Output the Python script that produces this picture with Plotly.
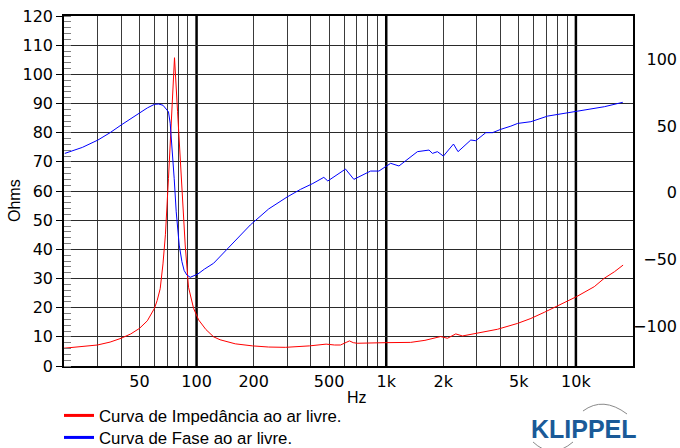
import math
import plotly.graph_objects as go

# ---------------- data ----------------
imp_freq = [20, 25, 30, 35, 40, 45, 50, 55, 60, 62, 64.3, 66.5, 68.5, 71.1, 73.8, 76.5,
            79.4, 83.0, 87.1, 90.7, 96.4, 102.5, 112, 123, 133, 160, 197, 240,
            294, 394, 482, 534, 574, 620, 640, 670, 703, 993, 1345, 1600, 1937,
            2102, 2326, 2523, 2791, 3862, 4925, 5789, 6808, 8010, 10093, 12502,
            14125, 15955, 17734]
imp_ohms = [6.1, 6.6, 7.2, 8.2, 9.5, 11.0, 12.9, 15.5, 19.8, 22.5, 26.5, 35, 45, 64.3, 87.2, 105.7,
            87.2, 64.3, 41.5, 27, 19.8, 15.8, 12.5, 10.0, 9.0, 7.6, 6.9, 6.5,
            6.4, 6.9, 7.5, 7.2, 7.2, 8.2, 8.6, 8.0, 7.8, 8.0, 8.1, 8.8, 10.1,
            9.5, 11.0, 10.3, 10.9, 12.6, 14.6, 16.3, 18.4, 20.6, 23.8, 27.2,
            30.1, 32.3, 34.6]

phase_freq = [20.2, 25, 30.2, 35, 40, 45, 50, 55, 60, 63.1, 66.5, 69.7, 71.1, 72.6,
              74.1, 76.2, 78.1, 81.0, 83.7, 86, 88.9, 92.6, 101.7, 110, 123, 144.8,
              192, 240, 300, 353, 410, 468.6, 492, 610, 675, 827, 915, 1055, 1167,
              1460, 1681, 1752, 1861, 2002, 2262, 2391, 2791, 2966, 3349, 3634,
              4021, 4541, 4926, 5789, 7095, 10220, 14125, 17670]
phase_deg = [29.5, 34, 39.5, 45, 50.7, 55.5, 60.2, 63.5, 66.2, 66.4, 65.5, 62, 60.6, 52,
             37, 10.9, -14.1, -39, -51.4, -58, -61.4, -63.1, -60.6, -57, -52.6, -42.2,
             -24, -12, -3.1, 2.6, 7, 11.6, 8.9, 17.8, 10.1, 16.3, 16.3, 22.1, 20.1,
             30.8, 32, 29.5, 30.8, 27.5, 36.5, 30.8, 39.5, 39, 45, 45,
             47.5, 49.9, 51.9, 53.2, 57.4, 61.1, 64.4, 67.7]

x_tick_vals = [50, 100, 200, 500, 1000, 2000, 5000, 10000]
x_tick_text = ["50", "100", "200", "500", "1k", "2k", "5k", "10k"]
decade_lines = [100, 1000, 10000]
minor_lines = [30, 40, 50, 60, 70, 80, 90, 200, 300, 400, 500, 600, 700, 800, 900,
               2000, 3000, 4000, 5000, 6000, 7000, 8000, 9000]
ohm_ticks = list(range(0, 121, 10))
phase_ticks = [-100, -50, 0, 50, 100]

name_imp = "Curva de Impedância ao ar livre."
name_phase = "Curva de Fase ao ar livre."

# ---------------- layout geometry ----------------
W, H = 680, 448
L, R, T, B = 64, 0, 16, 82
PW, PH = W - L - R, H - T - B


def px(x):
    return (x - L) / PW


def py(y):
    return (H - B - y) / PH


TXT = "Liberation Sans, Arial, sans-serif"
TICK = "DejaVu Sans, Verdana, sans-serif"

fig = go.Figure()
fig.add_trace(go.Scatter(x=imp_freq, y=imp_ohms, mode="lines",
                         line=dict(color="#ff0000", width=1), showlegend=False,
                         xaxis="x", yaxis="y"))
fig.add_trace(go.Scatter(x=phase_freq, y=phase_deg, mode="lines",
                         line=dict(color="#0000ff", width=1), showlegend=False,
                         xaxis="x", yaxis="y2"))
# legend entries
fig.add_trace(go.Scatter(x=[None], y=[None], mode="lines", name=name_imp,
                         line=dict(color="#ff0000", width=3), legend="legend"))
fig.add_trace(go.Scatter(x=[None], y=[None], mode="lines", name=name_phase,
                         line=dict(color="#0000ff", width=3), legend="legend2"))

shapes = []
for d in decade_lines:
    shapes.append(dict(type="line", xref="x", yref="paper", x0=d, x1=d, y0=0, y1=1,
                       line=dict(color="black", width=2.5), layer="below"))


def P(x, y):
    return f"{px(x):.4f},{py(y):.4f}"


shapes.append(dict(type="path", xref="paper", yref="paper",
                   path=f"M {P(583, 411)} Q {P(603, 396)} {P(627, 414)}",
                   line=dict(color="#8a8a8a", width=1)))
shapes.append(dict(type="path", xref="paper", yref="paper",
                   path=f"M {P(533, 442)} Q {P(552, 460)} {P(573, 442)}",
                   line=dict(color="#8a8a8a", width=1)))

fig.update_layout(
    width=W, height=H,
    margin=dict(l=L, r=R, t=T, b=B, autoexpand=False),
    paper_bgcolor="white", plot_bgcolor="white",
    font=dict(family=TXT, size=16, color="black"),
    xaxis=dict(type="log", range=[math.log10(20), math.log10(20000)],
               domain=[0, px(633)], automargin=False,
               tickvals=x_tick_vals, ticktext=x_tick_text,
               tickfont=dict(family=TICK, size=16, color="black"),
               showgrid=False, ticks="", zeroline=False,
               showline=True, linecolor="black", linewidth=1.5, mirror=True,
               minor=dict(tickvals=minor_lines, showgrid=True,
                          gridcolor="#3a3a3a", gridwidth=1.2, ticks="")),
    yaxis=dict(range=[0, 120], tickvals=ohm_ticks, automargin=False,
               tickfont=dict(family=TICK, size=16, color="black"),
               showgrid=True, gridcolor="#2a2a2a", gridwidth=1.3,
               ticks="outside", ticklen=6, tickcolor="black", tickwidth=1.3,
               zeroline=False,
               showline=True, linecolor="black", linewidth=1.5, mirror=True,
               minor=dict(dtick=2, ticks="inside", ticklen=7,
                          tickcolor="#808080", tickwidth=1, showgrid=False)),
    yaxis2=dict(range=[-129.4, 132.2], overlaying="y", anchor="free",
                position=1, side="right", tickvals=phase_ticks, automargin=False,
                ticklabelposition="inside",
                tickfont=dict(family=TICK, size=16, color="black"),
                showgrid=False, zeroline=False, showline=False, ticks=""),
    legend=dict(x=px(59), y=py(398), xanchor="left", yanchor="top",
                bgcolor="rgba(0,0,0,0)", font=dict(family=TXT, size=16.8)),
    legend2=dict(x=px(59), y=py(420), xanchor="left", yanchor="top",
                 bgcolor="rgba(0,0,0,0)", font=dict(family=TXT, size=16.8)),
    shapes=shapes,
    annotations=[
        dict(text="Ohms", xref="paper", yref="paper", x=px(14), y=py(201),
             textangle=-90, showarrow=False, font=dict(family=TXT, size=16),
             xanchor="center", yanchor="middle"),
        dict(text="Hz", xref="paper", yref="paper", x=px(357), y=py(397),
             showarrow=False, font=dict(family=TXT, size=16),
             xanchor="center", yanchor="middle"),
        dict(text="<b>KLIPPEL</b>", xref="paper", yref="paper", x=px(584), y=py(429),
             showarrow=False, font=dict(family=TXT, size=25, color="#1a5a98"),
             xanchor="center", yanchor="middle"),
    ],
)

fig.write_html("out.html", config={"displayModeBar": False},
               post_script="document.body.style.margin='0';document.body.style.padding='0';")
